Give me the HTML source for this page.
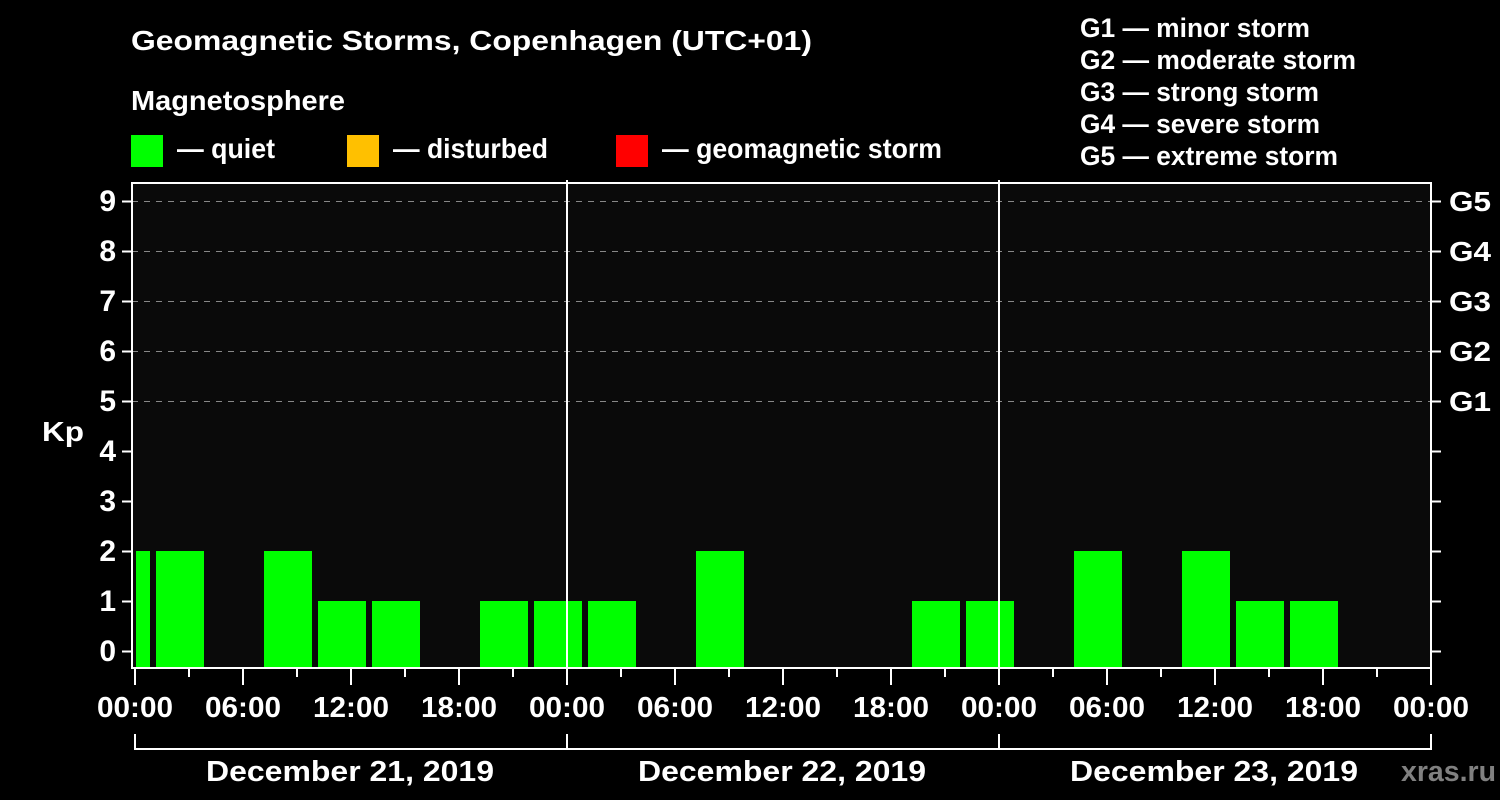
<!DOCTYPE html>
<html><head><meta charset="utf-8"><style>
html,body{margin:0;padding:0;background:#000;}
svg{display:block;}
text{font-family:"Liberation Sans",Arial,sans-serif;font-weight:bold;fill:#fff;}
</style></head><body>
<svg width="1500" height="800" xmlns="http://www.w3.org/2000/svg">
<rect width="1500" height="800" fill="#000"/>
<text x="131" y="50" font-size="28" textLength="681" lengthAdjust="spacingAndGlyphs">Geomagnetic Storms, Copenhagen (UTC+01)</text>
<text x="131" y="110" font-size="28" textLength="214" lengthAdjust="spacingAndGlyphs">Magnetosphere</text>
<rect x="131" y="135" width="32" height="32" fill="#00ff00"/>
<text x="177" y="158" font-size="28" textLength="98" lengthAdjust="spacingAndGlyphs">— quiet</text>
<rect x="347" y="135" width="32" height="32" fill="#ffc000"/>
<text x="393" y="158" font-size="28" textLength="155" lengthAdjust="spacingAndGlyphs">— disturbed</text>
<rect x="616" y="135" width="32" height="32" fill="#ff0000"/>
<text x="662" y="158" font-size="28" textLength="280" lengthAdjust="spacingAndGlyphs">— geomagnetic storm</text>
<g font-size="27">
<text x="1080" y="37" textLength="230" lengthAdjust="spacingAndGlyphs">G1 — minor storm</text>
<text x="1080" y="69" textLength="276" lengthAdjust="spacingAndGlyphs">G2 — moderate storm</text>
<text x="1080" y="101" textLength="239" lengthAdjust="spacingAndGlyphs">G3 — strong storm</text>
<text x="1080" y="133" textLength="240" lengthAdjust="spacingAndGlyphs">G4 — severe storm</text>
<text x="1080" y="165" textLength="258" lengthAdjust="spacingAndGlyphs">G5 — extreme storm</text>
</g>
<rect x="131" y="183" width="1301" height="485" fill="#0a0a0a"/>
<g stroke="#888" stroke-width="1" stroke-dasharray="6,6">
<line x1="132" y1="201.5" x2="1431" y2="201.5"/>
<line x1="132" y1="251.5" x2="1431" y2="251.5"/>
<line x1="132" y1="301.5" x2="1431" y2="301.5"/>
<line x1="132" y1="351.5" x2="1431" y2="351.5"/>
<line x1="132" y1="401.5" x2="1431" y2="401.5"/>
</g>
<g fill="#00ff00">
<rect x="136" y="551" width="14" height="117"/>
<rect x="156" y="551" width="48" height="117"/>
<rect x="264" y="551" width="48" height="117"/>
<rect x="318" y="601" width="48" height="67"/>
<rect x="372" y="601" width="48" height="67"/>
<rect x="480" y="601" width="48" height="67"/>
<rect x="534" y="601" width="48" height="67"/>
<rect x="588" y="601" width="48" height="67"/>
<rect x="696" y="551" width="48" height="117"/>
<rect x="912" y="601" width="48" height="67"/>
<rect x="966" y="601" width="48" height="67"/>
<rect x="1074" y="551" width="48" height="117"/>
<rect x="1182" y="551" width="48" height="117"/>
<rect x="1236" y="601" width="48" height="67"/>
<rect x="1290" y="601" width="48" height="67"/>
</g>
<g stroke="#fff" stroke-width="2" fill="none">
<rect x="132" y="183" width="1299" height="485"/>
<line x1="567" y1="180" x2="567" y2="668"/>
<line x1="999" y1="180" x2="999" y2="668"/>
<path d="M135 734V749H1431V734M567 734V749M999 734V749"/>
</g>
<g stroke="#fff" stroke-width="2">
<line x1="122" y1="201.5" x2="131" y2="201.5"/><line x1="122" y1="251.5" x2="131" y2="251.5"/>
<line x1="122" y1="301.5" x2="131" y2="301.5"/><line x1="122" y1="351.5" x2="131" y2="351.5"/>
<line x1="122" y1="401.5" x2="131" y2="401.5"/><line x1="122" y1="451.5" x2="131" y2="451.5"/>
<line x1="122" y1="501.5" x2="131" y2="501.5"/><line x1="122" y1="551.5" x2="131" y2="551.5"/>
<line x1="122" y1="601.5" x2="131" y2="601.5"/><line x1="122" y1="651.5" x2="131" y2="651.5"/>
<line x1="1432" y1="201.5" x2="1441" y2="201.5"/><line x1="1432" y1="251.5" x2="1441" y2="251.5"/>
<line x1="1432" y1="301.5" x2="1441" y2="301.5"/><line x1="1432" y1="351.5" x2="1441" y2="351.5"/>
<line x1="1432" y1="401.5" x2="1441" y2="401.5"/><line x1="1432" y1="451.5" x2="1441" y2="451.5"/>
<line x1="1432" y1="501.5" x2="1441" y2="501.5"/><line x1="1432" y1="551.5" x2="1441" y2="551.5"/>
<line x1="1432" y1="601.5" x2="1441" y2="601.5"/><line x1="1432" y1="651.5" x2="1441" y2="651.5"/>
</g>
<g stroke="#fff" stroke-width="2">
<line x1="135" y1="669" x2="135" y2="685"/><line x1="189" y1="669" x2="189" y2="677"/>
<line x1="243" y1="669" x2="243" y2="685"/><line x1="297" y1="669" x2="297" y2="677"/>
<line x1="351" y1="669" x2="351" y2="685"/><line x1="405" y1="669" x2="405" y2="677"/>
<line x1="459" y1="669" x2="459" y2="685"/><line x1="513" y1="669" x2="513" y2="677"/>
<line x1="567" y1="669" x2="567" y2="685"/><line x1="621" y1="669" x2="621" y2="677"/>
<line x1="675" y1="669" x2="675" y2="685"/><line x1="729" y1="669" x2="729" y2="677"/>
<line x1="783" y1="669" x2="783" y2="685"/><line x1="837" y1="669" x2="837" y2="677"/>
<line x1="891" y1="669" x2="891" y2="685"/><line x1="945" y1="669" x2="945" y2="677"/>
<line x1="999" y1="669" x2="999" y2="685"/><line x1="1053" y1="669" x2="1053" y2="677"/>
<line x1="1107" y1="669" x2="1107" y2="685"/><line x1="1161" y1="669" x2="1161" y2="677"/>
<line x1="1215" y1="669" x2="1215" y2="685"/><line x1="1269" y1="669" x2="1269" y2="677"/>
<line x1="1323" y1="669" x2="1323" y2="685"/><line x1="1377" y1="669" x2="1377" y2="677"/>
<line x1="1431" y1="669" x2="1431" y2="685"/>
</g>
<g font-size="30" text-anchor="end">
<text x="116" y="211">9</text><text x="116" y="261">8</text><text x="116" y="311">7</text>
<text x="116" y="361">6</text><text x="116" y="411">5</text><text x="116" y="461">4</text>
<text x="116" y="511">3</text><text x="116" y="561">2</text><text x="116" y="611">1</text>
<text x="116" y="661">0</text>
</g>
<text x="42" y="441" font-size="28" textLength="42" lengthAdjust="spacingAndGlyphs">Kp</text>
<g font-size="28">
<text x="1449" y="211" textLength="42" lengthAdjust="spacingAndGlyphs">G5</text>
<text x="1449" y="261" textLength="42" lengthAdjust="spacingAndGlyphs">G4</text>
<text x="1449" y="311" textLength="42" lengthAdjust="spacingAndGlyphs">G3</text>
<text x="1449" y="361" textLength="42" lengthAdjust="spacingAndGlyphs">G2</text>
<text x="1449" y="411" textLength="42" lengthAdjust="spacingAndGlyphs">G1</text>
</g>
<g font-size="29">
<text x="97" y="717" textLength="76" lengthAdjust="spacingAndGlyphs">00:00</text>
<text x="205" y="717" textLength="76" lengthAdjust="spacingAndGlyphs">06:00</text>
<text x="313" y="717" textLength="76" lengthAdjust="spacingAndGlyphs">12:00</text>
<text x="421" y="717" textLength="76" lengthAdjust="spacingAndGlyphs">18:00</text>
<text x="529" y="717" textLength="76" lengthAdjust="spacingAndGlyphs">00:00</text>
<text x="637" y="717" textLength="76" lengthAdjust="spacingAndGlyphs">06:00</text>
<text x="745" y="717" textLength="76" lengthAdjust="spacingAndGlyphs">12:00</text>
<text x="853" y="717" textLength="76" lengthAdjust="spacingAndGlyphs">18:00</text>
<text x="961" y="717" textLength="76" lengthAdjust="spacingAndGlyphs">00:00</text>
<text x="1069" y="717" textLength="76" lengthAdjust="spacingAndGlyphs">06:00</text>
<text x="1177" y="717" textLength="76" lengthAdjust="spacingAndGlyphs">12:00</text>
<text x="1285" y="717" textLength="76" lengthAdjust="spacingAndGlyphs">18:00</text>
<text x="1393" y="717" textLength="76" lengthAdjust="spacingAndGlyphs">00:00</text>
<text x="206" y="781" textLength="288" lengthAdjust="spacingAndGlyphs">December 21, 2019</text>
<text x="638" y="781" textLength="288" lengthAdjust="spacingAndGlyphs">December 22, 2019</text>
<text x="1070" y="781" textLength="288" lengthAdjust="spacingAndGlyphs">December 23, 2019</text>
</g>
<text x="1401" y="781" font-size="29" textLength="95" lengthAdjust="spacingAndGlyphs" style="fill:#808080">xras.ru</text>
</svg>
</body></html>
